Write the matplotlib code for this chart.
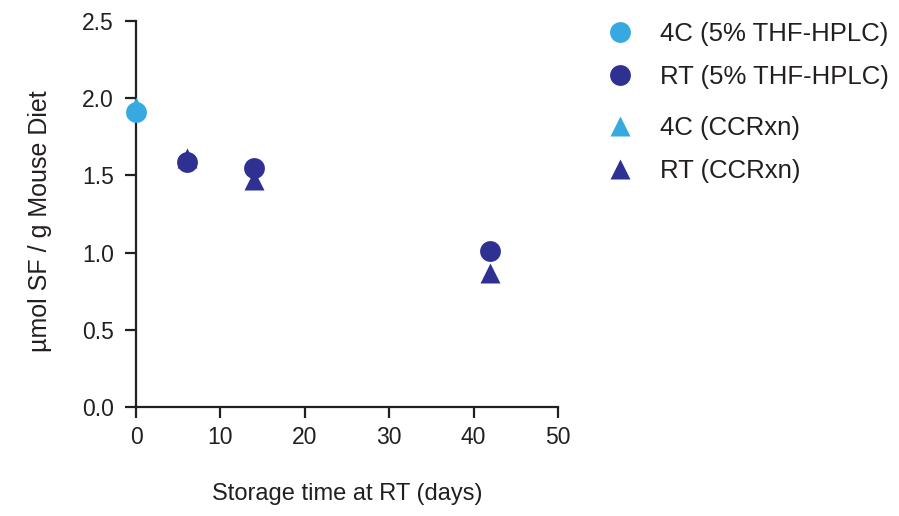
import matplotlib
matplotlib.use("Agg")
import matplotlib.pyplot as plt
from matplotlib.lines import Line2D

plt.rcParams['font.family'] = ['Liberation Sans', 'DejaVu Sans']

light = '#36a9e1'
dark = '#2e3192'
ink = '#231f20'

# Data
days_4c_hplc = [0]
vals_4c_hplc = [1.91]
days_rt_hplc = [6, 14, 42]
vals_rt_hplc = [1.59, 1.55, 1.01]
days_4c_ccr = [0]
vals_4c_ccr = [1.94]
days_rt_ccr = [6, 14, 42]
vals_rt_ccr = [1.61, 1.47, 0.87]

labels = ['4C (5% THF-HPLC)', 'RT (5% THF-HPLC)', '4C (CCRxn)', 'RT (CCRxn)']

fig = plt.figure(figsize=(8.99, 5.16), dpi=100)
ax = fig.add_axes([0.1513, 0.2112, 0.4694, 0.7481])

ms = 15
ax.plot(days_rt_ccr, vals_rt_ccr, '^', color=dark, ms=ms, mec='none', clip_on=False, zorder=3)
ax.plot(days_4c_ccr, vals_4c_ccr, '^', color=light, ms=ms, mec='none', clip_on=False, zorder=3)
ax.plot(days_rt_hplc, vals_rt_hplc, 'o', color=dark, ms=ms, mec='none', clip_on=False, zorder=4)
ax.plot(days_4c_hplc, vals_4c_hplc, 'o', color=light, ms=ms, mec='none', clip_on=False, zorder=4)

ax.set_xlim(0, 50)
ax.set_ylim(0, 2.5)
ax.set_xticks([0, 10, 20, 30, 40, 50])
ax.set_yticks([0.0, 0.5, 1.0, 1.5, 2.0, 2.5])
ax.set_yticklabels(['0.0', '0.5', '1.0', '1.5', '2.0', '2.5'])
for s in ['top', 'right']:
    ax.spines[s].set_visible(False)
for s in ['left', 'bottom']:
    ax.spines[s].set_linewidth(1.6)
    ax.spines[s].set_color(ink)
ax.tick_params(axis='both', width=1.6, length=8, labelsize=16.5, color=ink, labelcolor=ink)
ax.tick_params(axis='y', pad=8)
ax.tick_params(axis='x', pad=6)
ax.set_xlabel('Storage time at RT (days)', fontsize=17, labelpad=24, color=ink)
ax.set_ylabel('µmol SF / g Mouse Diet', fontsize=18, color=ink)
ax.yaxis.set_label_coords(-0.200, 0.482)

h1 = [Line2D([], [], ls='none', marker='o', ms=ms, color=light, mec='none'),
      Line2D([], [], ls='none', marker='o', ms=ms, color=dark, mec='none')]
h2 = [Line2D([], [], ls='none', marker='^', ms=ms, color=light, mec='none'),
      Line2D([], [], ls='none', marker='^', ms=ms, color=dark, mec='none')]
kw = dict(frameon=False, fontsize=18.5, handletextpad=1.06, labelspacing=0.75,
          borderaxespad=0, borderpad=0, handlelength=1.0, labelcolor=ink)
leg1 = fig.legend(h1, labels[:2], loc='upper left', bbox_to_anchor=(0.675, 0.957), **kw)
leg2 = fig.legend(h2, labels[2:], loc='upper left', bbox_to_anchor=(0.675, 0.775), **kw)

fig.savefig('out.png', dpi=100)
